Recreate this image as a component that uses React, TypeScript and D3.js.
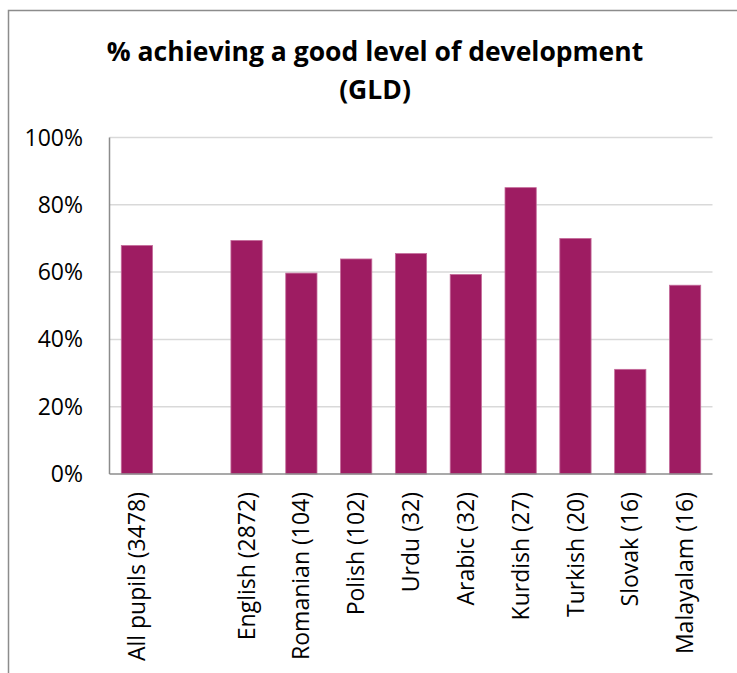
import React, { useEffect, useRef } from "react";
import * as d3 from "d3";

const categories = [
  "All pupils (3478)",
  "",
  "English (2872)",
  "Romanian (104)",
  "Polish (102)",
  "Urdu (32)",
  "Arabic (32)",
  "Kurdish (27)",
  "Turkish (20)",
  "Slovak (16)",
  "Malayalam (16)",
];
const values: (number | null)[] = [67.9, null, 69.4, 59.7, 63.9, 65.5, 59.3, 85.1, 70.0, 31.1, 56.1];
const yTicks = [0, 20, 40, 60, 80, 100];
const titleLines = ["% achieving a good level of development", "(GLD)"];

const W = 737;
const H = 673;
const FONT = "'Segoe UI', 'Open Sans', 'Noto Sans', sans-serif";

export default function App() {
  const ref = useRef<SVGSVGElement>(null);
  useEffect(() => {
    const svg = d3.select(ref.current);
    svg.selectAll("*").remove();
    const left = 109.5, right = 712.5, top = 137.5, bottom = 474;
    const x = d3.scaleBand<number>().domain(d3.range(categories.length)).range([left, right]).paddingInner(0.43).paddingOuter(0.215);
    const y = d3.scaleLinear().domain([0, 100]).range([bottom, top]);

    svg.append("rect").attr("width", W).attr("height", H).attr("fill", "#fff");
    // frame
    svg.append("path").attr("d", `M8.5,${H} V10.5 H${W}`).attr("fill", "none").attr("stroke", "#8c8c8c").attr("stroke-width", 1.5);

    const tg = svg.append("text").attr("text-anchor", "middle").attr("font-family", FONT).attr("font-weight", "bold").attr("font-size", 26.5).attr("fill", "#000");
    titleLines.forEach((t, i) => {
      tg.append("tspan").attr("x", 375).attr("y", 61 + i * 38).text(t);
    });

    // gridlines
    svg.append("g").selectAll("line").data(yTicks.filter((d) => d > 0)).join("line")
      .attr("x1", left).attr("x2", right).attr("y1", (d) => y(d)).attr("y2", (d) => y(d))
      .attr("stroke", "#d9d9d9").attr("stroke-width", 1.5);

    svg.append("g").selectAll("text").data(yTicks).join("text")
      .attr("x", 83).attr("y", (d) => y(d)).attr("dy", "0.35em").attr("text-anchor", "end")
      .attr("font-family", FONT).attr("font-size", 23).attr("fill", "#000").text((d) => `${d}%`);

    svg.append("g").selectAll("rect").data(values.map((v, i) => ({ v, i })).filter((d) => d.v !== null)).join("rect")
      .attr("x", (d) => x(d.i)!).attr("width", x.bandwidth())
      .attr("y", (d) => y(d.v as number)).attr("height", (d) => bottom - y(d.v as number))
      .attr("fill", "#9e1c62").attr("stroke", "#c46a9a").attr("stroke-width", 0.8);

    // axes
    svg.append("line").attr("x1", left).attr("x2", left).attr("y1", top).attr("y2", bottom).attr("stroke", "#8c8c8c").attr("stroke-width", 1.5);
    svg.append("line").attr("x1", left).attr("x2", right).attr("y1", bottom).attr("y2", bottom).attr("stroke", "#8c8c8c").attr("stroke-width", 1.5);

    svg.append("g").selectAll("text").data(categories.map((c, i) => ({ c, i }))).join("text")
      .attr("transform", (d) => `translate(${x(d.i)! + x.bandwidth() / 2},492) rotate(-90)`)
      .attr("dy", "0.35em").attr("text-anchor", "end")
      .attr("font-family", FONT).attr("font-size", 23).attr("fill", "#000").text((d) => d.c);
  }, []);
  return <svg ref={ref} width={W} height={H} style={{ position: "absolute", left: 0, top: 0 }} />;
}
